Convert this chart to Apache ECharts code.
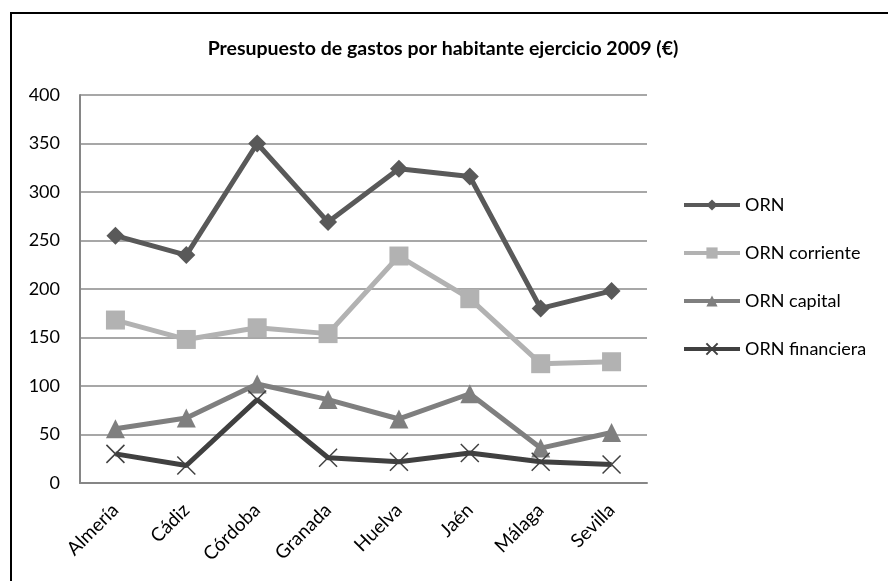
<!DOCTYPE html>
<html>
<head>
<meta charset="utf-8">
<script src="https://cdn.jsdelivr.net/npm/echarts@6/dist/echarts.min.js"></script>
<style>
  html, body { margin: 0; padding: 0; background: #fff; }
  #chart { width: 888px; height: 581px; }
</style>
</head>
<body>
<div id="chart"></div>
<script>
// datos
var provincias = ['Almería', 'Cádiz', 'Córdoba', 'Granada', 'Huelva', 'Jaén', 'Málaga', 'Sevilla'];
var orn = [255, 235, 350, 269, 324, 316, 180, 198];
var ornCorriente = [168, 148, 160, 154, 234, 190, 123, 125];
var ornCapital = [56, 67, 102, 86, 66, 92, 36, 52];
var ornFinanciera = [30, 18, 86, 26, 22, 31, 22, 19];
var nombres = ['ORN', 'ORN corriente', 'ORN capital', 'ORN financiera'];

var fuente = 'Lato, "Open Sans", sans-serif';
var cruz = 'path://M0,0L10,10M10,0L0,10';

var myChart = echarts.init(document.getElementById('chart'));

function serie(nombre, datos, color, simbolo, tam, hueco) {
    return {
        name: nombre,
        type: 'line',
        data: datos,
        symbol: simbolo,
        symbolSize: tam,
        showAllSymbol: true,
        lineStyle: { color: color, width: 5 },
        itemStyle: hueco ? { color: 'transparent', borderColor: color, borderWidth: 1.5 } : { color: color },
        emphasis: { disabled: true },
        animation: false
    };
}

var option = {
    backgroundColor: '#fff',
    textStyle: { fontFamily: fuente },
    title: {
        text: 'Presupuesto de gastos por habitante ejercicio 2009 (€)',
        left: 438,
        textAlign: 'center',
        top: 34,
        textStyle: { fontFamily: fuente, fontSize: 19.5, fontWeight: 'bold', color: '#000' }
    },
    graphic: [{
        type: 'rect',
        shape: { x: 11, y: 13, width: 1000, height: 1000 },
        style: { fill: 'none', stroke: '#000', lineWidth: 2 },
        silent: true
    }],
    legend: {
        orient: 'vertical',
        left: 677,
        top: 191,
        itemWidth: 56,
        itemHeight: 14,
        itemGap: 30,
        data: nombres,
        lineStyle: { width: 4 },
        textStyle: { fontFamily: fuente, fontSize: 18, color: '#000' }
    },
    grid: { left: 80, right: 241, top: 95, bottom: 98, containLabel: false },
    xAxis: {
        type: 'category',
        data: provincias,
        boundaryGap: true,
        axisLine: { lineStyle: { color: '#868686', width: 2 } },
        axisTick: { show: false },
        axisLabel: { rotate: 45, margin: 24, fontSize: 19, color: '#000', fontFamily: fuente }
    },
    yAxis: {
        type: 'value',
        min: 0,
        max: 400,
        interval: 50,
        axisLine: { show: true, lineStyle: { color: '#868686', width: 2 } },
        axisTick: { show: false },
        axisLabel: { margin: 20, fontSize: 18, color: '#000', fontFamily: fuente },
        splitLine: { lineStyle: { color: '#8a8a8a', width: 1.5 } }
    },
    series: [
        serie(nombres[0], orn, '#595959', 'diamond', 18, false),
        serie(nombres[1], ornCorriente, '#b2b2b2', 'rect', 19, false),
        serie(nombres[2], ornCapital, '#7f7f7f', 'triangle', 19, false),
        serie(nombres[3], ornFinanciera, '#404040', cruz, 18, true)
    ]
};
myChart.setOption(option);
</script>
</body>
</html>
